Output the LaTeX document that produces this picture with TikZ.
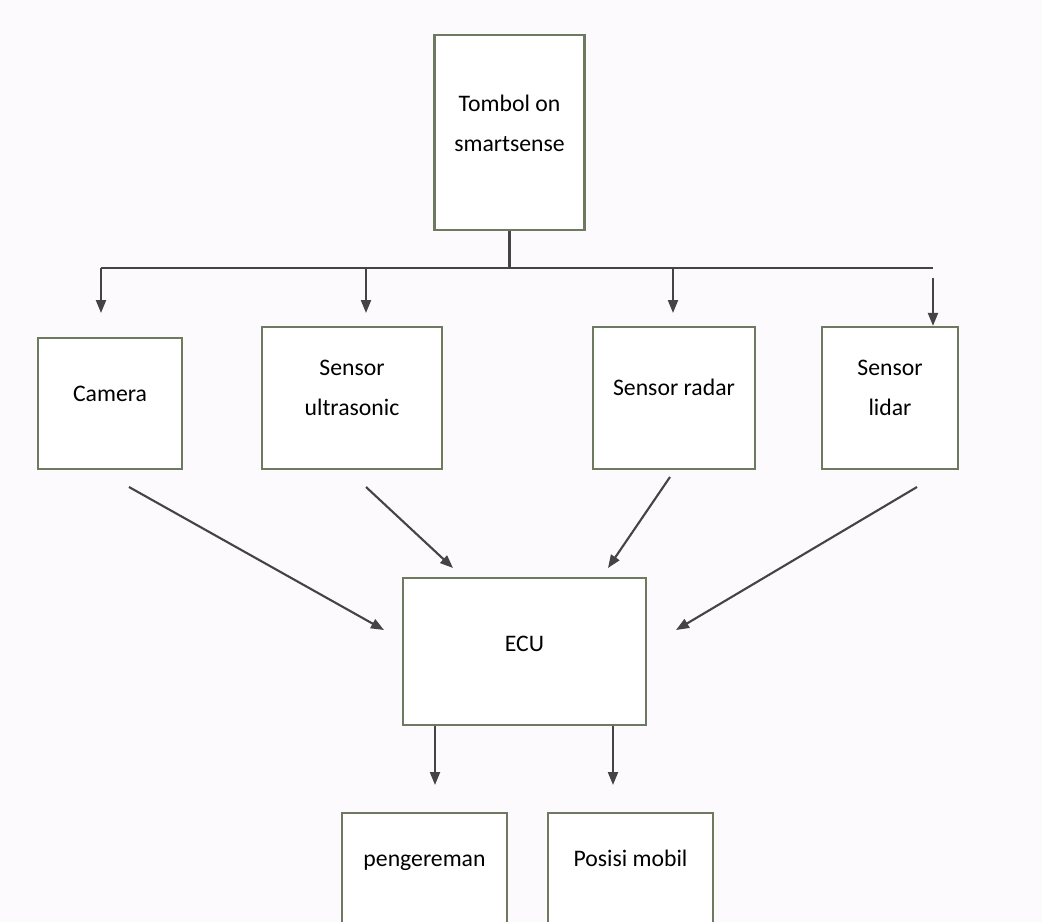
\documentclass[tikz,border=0pt]{standalone}
\usepackage{fontspec}
\setmainfont{Carlito}
\usetikzlibrary{arrows.meta}
\definecolor{boxline}{RGB}{110,122,96}
\definecolor{wire}{RGB}{68,68,68}
\definecolor{paper}{RGB}{252,250,252}
\tikzset{
  blk/.style={draw=boxline, line width=1.3pt, fill=white, inner sep=0pt},
  lbl/.style={font=\fontsize{13.5}{23}\selectfont, align=center, text=black},
  wireline/.style={draw=wire, line width=1.2pt},
  arr/.style={wireline, -{Triangle[length=0.26cm,width=0.2cm]}},
}
\begin{document}
\begin{tikzpicture}[x=0.02cm, y=-0.02cm]
\useasboundingbox (0,0) rectangle (1042,922);
\fill[paper] (0,0) rectangle (1042,922);
\clip (0,0) rectangle (1042,922);
% boxes
\node[blk, minimum width=3cm, minimum height=3.9cm, label={[lbl,yshift=0.18cm]center:{Tombol on\\smartsense}}] (tombol) at (509.5,132.5) {};
\node[blk, minimum width=2.88cm, minimum height=2.62cm, label={[lbl,yshift=0.2cm]center:Camera}] (cam) at (110,403.5) {};
\node[blk, minimum width=3.6cm, minimum height=2.84cm, label={[lbl,yshift=0.2cm]center:{Sensor\\ultrasonic}}] (ultra) at (352,398) {};
\node[blk, minimum width=3.24cm, minimum height=2.84cm, label={[lbl,yshift=0.22cm]center:Sensor radar}] (radar) at (674,398) {};
\node[blk, minimum width=2.72cm, minimum height=2.84cm, label={[lbl,yshift=0.2cm]center:{Sensor\\lidar}}] (lidar) at (890,398) {};
\node[blk, minimum width=4.86cm, minimum height=2.94cm, label={[lbl,yshift=0.16cm]center:ECU}] (ecu) at (524.5,651.5) {};
\node[blk, minimum width=3.3cm, minimum height=2.68cm, label={[lbl,yshift=0.34cm]center:pengereman}] (rem) at (424.5,880) {};
\node[blk, minimum width=3.3cm, minimum height=2.68cm, label={[lbl,yshift=0.44cm]center:Posisi mobil}] (posisi) at (630.5,880) {};
% bus from the switch
\coordinate (busL) at (101,268);
\coordinate (busR) at (933,268);
\draw[wireline] (tombol.south) -- (tombol.south |- busL);
\draw[wireline] (busL) -- (busR);
\coordinate (tapcam) at (101,313);
\coordinate (tapultra) at (366,313);
\coordinate (tapradar) at (673,313);
\coordinate (taplidar) at (933,278);
\draw[arr] (tapcam |- busL) -- (tapcam);
\draw[arr] (tapultra |- busL) -- (tapultra);
\draw[arr] (tapradar |- busL) -- (tapradar);
\draw[arr] (taplidar) -- (taplidar |- lidar.north);
% sensors into ECU
\coordinate (camout) at (129,487);
\coordinate (camin) at (384,630);
\coordinate (ultraout) at (366,487);
\coordinate (ultrain) at (453,568);
\coordinate (radarout) at (670,477);
\coordinate (radarin) at (608,568);
\coordinate (lidarout) at (917,487);
\coordinate (lidarin) at (676,630);
\draw[arr] (camout) -- (camin);
\draw[arr] (ultraout) -- (ultrain);
\draw[arr] (radarout) -- (radarin);
\draw[arr] (lidarout) -- (lidarin);
% ECU outputs
\coordinate (remin) at (435,785);
\coordinate (posin) at (613,785);
\draw[arr] (remin |- ecu.south) -- (remin);
\draw[arr] (posin |- ecu.south) -- (posin);
\end{tikzpicture}
\end{document}
